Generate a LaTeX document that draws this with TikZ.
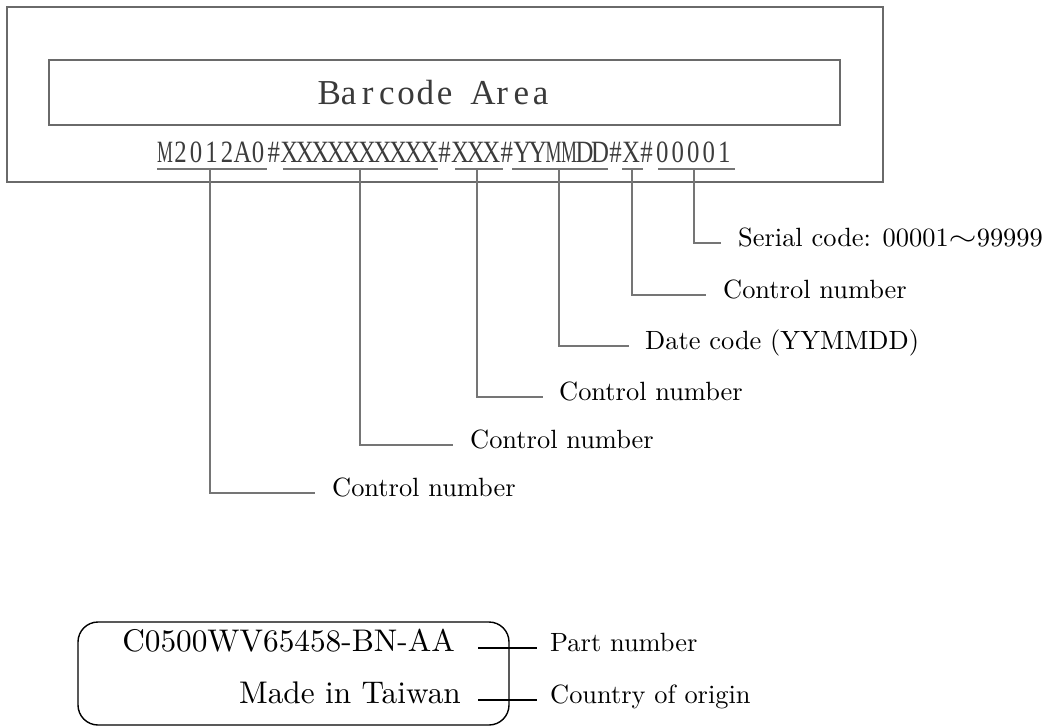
\documentclass[tikz,border=0pt]{standalone}
\usepackage{fontspec}
\usepackage{graphicx}
\setmainfont{lmroman10-regular.otf}[BoldFont=lmroman10-bold.otf, ItalicFont=lmroman10-italic.otf]
\newfontfamily\condserif[FakeStretch=0.8]{Liberation Serif}
\newfontfamily\plainserif{Liberation Serif}
\makeatletter
\newcommand\monostr[2]{\@tfor\mychr:=#2\do{\makebox[#1][c]{\mychr}}}
\makeatother
\newcommand\narrowM{\scalebox{0.72}[1]{M}}
\newcommand\wavedash{\raisebox{0.1ex}{\scalebox{1.45}[1.05]{$\sim$}}}
\definecolor{boxgray}{HTML}{6A6A6A}
\definecolor{leadgray}{HTML}{757575}
\definecolor{codegray}{HTML}{3C3C3C}
\definecolor{titlegray}{HTML}{3A3A3A}
\tikzset{
  outline/.style={draw=boxgray, line width=1.6pt},
  leader/.style={draw=leadgray, line width=1.3pt},
  uline/.style={draw=leadgray, line width=1.1pt},
  lbl/.style={anchor=west, inner sep=0pt, font=\fontsize{26.4}{30}\selectfont, text height=1.58ex, text depth=0pt},
  bigtxt/.style={anchor=east, inner sep=0pt, font=\fontsize{31.3}{34}\selectfont, text height=1.58ex, text depth=0pt},
  blackline/.style={draw=black, line width=1.5pt}
}
\begin{document}
\begin{tikzpicture}[x=1pt, y=-1pt]
\useasboundingbox (0,0) rectangle (1052,727);
% upper label
\node[outline, minimum width=876pt, minimum height=175pt, inner sep=0pt] (outer) at (445,94.5) {};
\node[outline, minimum width=791pt, minimum height=65pt, inner sep=0pt] (inner) at (444.5,92.5) {};
\node[anchor=base, inner sep=0pt, text=titlegray, font=\plainserif\fontsize{35}{35}\selectfont] (title) at (435,105)
  {\monostr{19.2pt}{Barcode}\makebox[19.2pt]{}\monostr{19.2pt}{Area}};
\node[anchor=base west, inner sep=0pt, text=codegray, font=\condserif\fontsize{31}{31}\selectfont] (code) at (157,163)
  {\monostr{15.54pt}{\narrowM2012A0\#XXXXXXXXXX\#XXX\#YY\narrowM\narrowM DD\#X\#00001}};
% underlines
\draw[uline] (157,169) -- (267,169);
\draw[uline] (283,169) -- (438,169);
\draw[uline] (455,169) -- (503,169);
\draw[uline] (512,169) -- (608,169);
\draw[uline] (622,169) -- (643,169);
\draw[uline] (658,169) -- (735,169);
\coordinate (t1) at (210,169);
\coordinate (t2) at (360,169);
\coordinate (t3) at (477,169);
\coordinate (t4) at (559,169);
\coordinate (t5) at (632,169);
\coordinate (t6) at (694,169);
% labels
\node[lbl] (l6) at (738,243) {Serial code: 00001\wavedash99999};
\node[lbl] (l5) at (723,295) {Control number};
\node[lbl] (l4) at (645,346) {Date code (YYMMDD)};
\node[lbl] (l3) at (559,397) {Control number};
\node[lbl] (l2) at (470,445) {Control number};
\node[lbl] (l1) at (332,493) {Control number};
\draw[leader] (t6) |- ([xshift=-17pt]l6.west);
\draw[leader] (t5) |- ([xshift=-17pt]l5.west);
\draw[leader] (t4) |- ([xshift=-16pt]l4.west);
\draw[leader] (t3) |- ([xshift=-16pt]l3.west);
\draw[leader] (t2) |- ([xshift=-17pt]l2.west);
\draw[leader] (t1) |- ([xshift=-17pt]l1.west);
% lower label
\node[draw=black, line width=1.4pt, rounded corners=20pt, minimum width=431pt, minimum height=103pt, inner sep=0pt] (lbox) at (293.5,673.5) {};
\node[bigtxt] (pn) at (455,648) {C0500WV65458-BN-AA};
\node[bigtxt] (mt) at (461,700) {Made in Taiwan};
\node[lbl] (pl) at (550,648) {Part number};
\node[lbl] (cl) at (550,700) {Country of origin};
\draw[blackline] ([xshift=23pt]pn.east) -- ([xshift=-13pt]pl.west);
\draw[blackline] ([xshift=17pt]mt.east) -- ([xshift=-13pt]cl.west);
\end{tikzpicture}
\end{document}
